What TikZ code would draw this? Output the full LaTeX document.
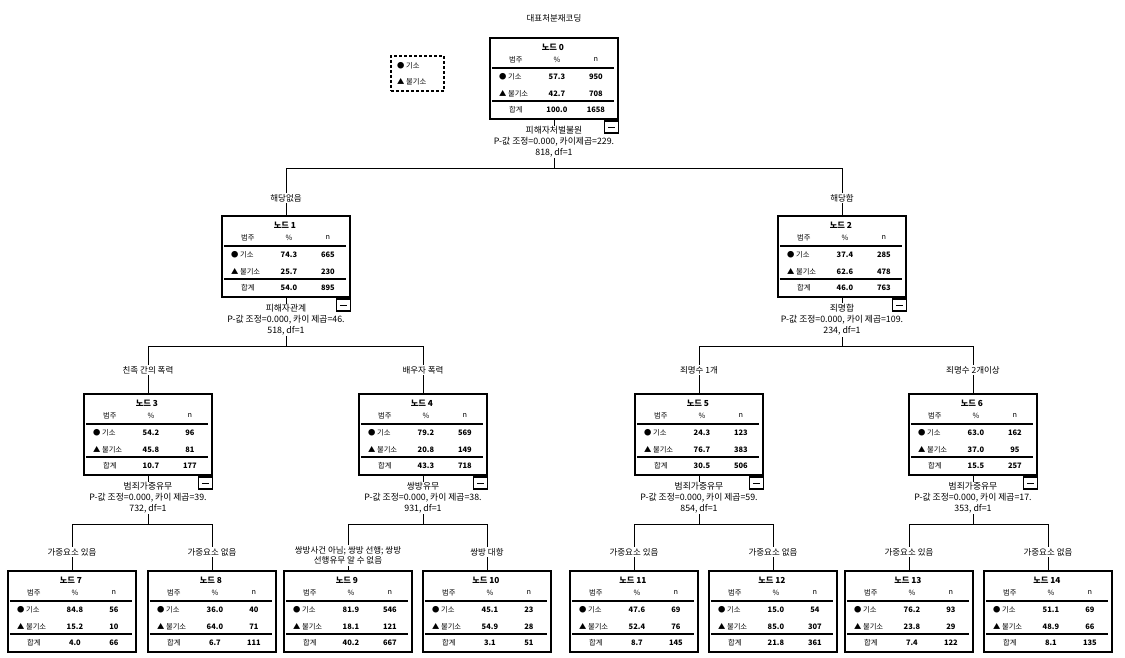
\documentclass[tikz,border=0pt]{standalone}
\usepackage{fontspec}
\setmainfont{Noto Sans CJK KR}
\tikzset{
  box/.style={draw, line width=2.2pt, minimum width=128pt, minimum height=81pt, inner sep=0pt, anchor=north},
  inline/.style={line width=1.4pt},
  conn/.style={line width=0.8pt},
  cell/.style={font=\fontsize{7.3}{8}\selectfont, inner sep=0pt},
  val/.style={font=\fontsize{7.5}{8}\selectfont\bfseries, inner sep=0pt},
  ttl/.style={font=\fontsize{8.3}{9}\selectfont\bfseries, inner sep=0pt},
  split/.style={font=\fontsize{8.8}{11}\selectfont, align=center, fill=white, inner sep=1pt},
  elabel/.style={font=\fontsize{8.5}{10}\selectfont, fill=white, inner sep=1.5pt, align=center},
  minusbox/.style={draw, fill=white, line width=1.6pt, minimum width=14pt, minimum height=12pt, inner sep=0pt, anchor=north east},
}
\newcommand\tbox[9]{%
  \node[box] (n#1) at (#2,#3) {};
  \path (n#1.north west) ++(64,10.5) node[ttl] {노드 #1};
  \path (n#1.north west) ++(27,22.5) node[cell] {범주} ++(41,0) node[cell] {\%} ++(39,0) node[cell] {n};
  \draw[inline] ([shift={(3,31)}]n#1.north west) -- ++(122,0);
  \path (n#1.north west) ++(10,39.5) node[cell,anchor=west] {● 기소};
  \path (n#1.north west) ++(68,39.5) node[val] {#4} ++(39,0) node[val] {#5};
  \path (n#1.north west) ++(10,56.5) node[cell,anchor=west] {▲ 불기소};
  \path (n#1.north west) ++(68,56.5) node[val] {#6} ++(39,0) node[val] {#7};
  \draw[inline] ([shift={(3,64)}]n#1.north west) -- ++(122,0);
  \path (n#1.north west) ++(27,73) node[cell] {합계};
  \path (n#1.north west) ++(68,73) node[val] {#8} ++(39,0) node[val] {#9};
}
\newcommand\minusmark[1]{%
  \node[minusbox] (m#1) at (n#1.south east) {};
  \draw[line width=0.6pt] ([xshift=-3.5pt]m#1.center) -- ([xshift=3.5pt]m#1.center);
}
\begin{document}
\begin{tikzpicture}[x=1pt,y=-1pt]
\useasboundingbox (0,0) rectangle (1125,658);
\fill[white] (0,0) rectangle (1125,658);

\node[font=\fontsize{8.5}{10}\selectfont, inner sep=0pt] (title) at (554,18) {대표처분재코딩};

% legend
\node[draw, dash pattern=on 3pt off 2pt, line width=1.6pt, minimum width=53pt, minimum height=35pt, inner sep=0pt, anchor=north west] (legend) at (390,55) {};
\node[cell, anchor=west] (lg1) at (397,65.5) {● 기소};
\node[cell, anchor=west] (lg2) at (397,82) {▲ 불기소};

% boxes
\tbox{0}{554}{37}{57.3}{950}{42.7}{708}{100.0}{1658}
\tbox{1}{286}{215}{74.3}{665}{25.7}{230}{54.0}{895}
\tbox{2}{842}{215}{37.4}{285}{62.6}{478}{46.0}{763}
\tbox{3}{148}{393}{54.2}{96}{45.8}{81}{10.7}{177}
\tbox{4}{423}{393}{79.2}{569}{20.8}{149}{43.3}{718}
\tbox{5}{699}{393}{24.3}{123}{76.7}{383}{30.5}{506}
\tbox{6}{973}{393}{63.0}{162}{37.0}{95}{15.5}{257}
\tbox{7}{72}{570}{84.8}{56}{15.2}{10}{4.0}{66}
\tbox{8}{212}{570}{36.0}{40}{64.0}{71}{6.7}{111}
\tbox{9}{348}{570}{81.9}{546}{18.1}{121}{40.2}{667}
\tbox{10}{487}{570}{45.1}{23}{54.9}{28}{3.1}{51}
\tbox{11}{634}{570}{47.6}{69}{52.4}{76}{8.7}{145}
\tbox{12}{773}{570}{15.0}{54}{85.0}{307}{21.8}{361}
\tbox{13}{909}{570}{76.2}{93}{23.8}{29}{7.4}{122}
\tbox{14}{1048}{570}{51.1}{69}{48.9}{66}{8.1}{135}

% connectors
\foreach \p/\a/\b in {0/1/2, 1/3/4, 2/5/6, 3/7/8, 4/9/10, 5/11/12, 6/13/14}{
  \draw[conn] (n\p.south) -- ++(0,48) coordinate (h\p);
  \draw[conn] (n\a.north) |- (h\p) -| (n\b.north);
}

% split texts
\node[split] (s0) at (554,142) {피해자처벌불원\\P-값 조정=0.000, 카이제곱=229.\\818, df=1};
\node[split] (s1) at (286,320) {피해자관계\\P-값 조정=0.000, 카이 제곱=46.\\518, df=1};
\node[split] (s2) at (842,320) {죄명합\\P-값 조정=0.000, 카이 제곱=109.\\234, df=1};
\node[split] (s3) at (148,498) {범죄가중유무\\P-값 조정=0.000, 카이 제곱=39.\\732, df=1};
\node[split] (s4) at (423,498) {쌍방유무\\P-값 조정=0.000, 카이 제곱=38.\\931, df=1};
\node[split] (s5) at (699,498) {범죄가중유무\\P-값 조정=0.000, 카이 제곱=59.\\854, df=1};
\node[split] (s6) at (973,498) {범죄가중유무\\P-값 조정=0.000, 카이 제곱=17.\\353, df=1};

% edge labels
\node[elabel] (e1) at (286,198) {해당없음};
\node[elabel] (e2) at (842,198) {해당함};
\node[elabel] (e3) at (148,370) {친족 간의 폭력};
\node[elabel] (e4) at (423,370) {배우자 폭력};
\node[elabel] (e5) at (699,370) {죄명수 1개};
\node[elabel] (e6) at (973,370) {죄명수 2개이상};
\node[elabel] (e7) at (72,552) {가중요소 있음};
\node[elabel] (e8) at (212,552) {가중요소 없음};
\node[elabel, anchor=north] (e9) at (348,545) {쌍방사건 아님; 쌍방 선행; 쌍방\\선행유무 알 수 없음};
\node[elabel] (e10) at (487,552) {쌍방 대항};
\node[elabel] (e11) at (634,552) {가중요소 있음};
\node[elabel] (e12) at (773,552) {가중요소 없음};
\node[elabel] (e13) at (909,552) {가중요소 있음};
\node[elabel] (e14) at (1048,552) {가중요소 없음};

% collapse marks
\foreach \k in {0,...,6}{\minusmark{\k}}
\end{tikzpicture}
\end{document}
